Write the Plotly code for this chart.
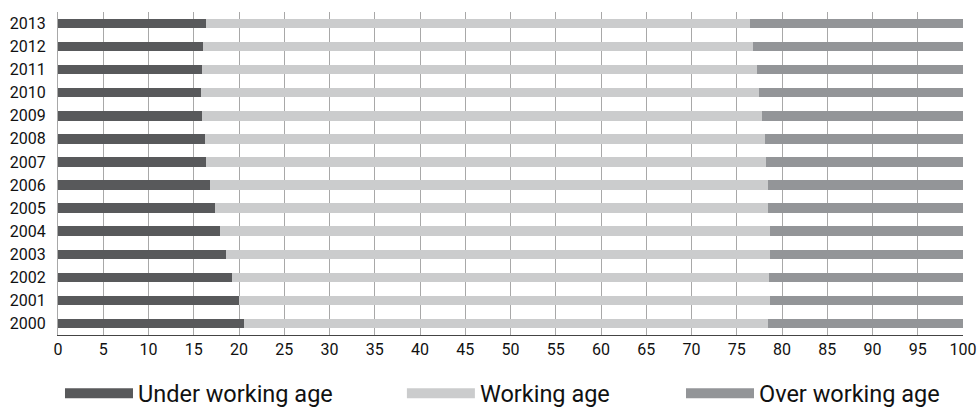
import plotly.graph_objects as go

years = ["2000", "2001", "2002", "2003", "2004", "2005", "2006",
         "2007", "2008", "2009", "2010", "2011", "2012", "2013"]
under = [20.6, 20.0, 19.2, 18.6, 17.9, 17.3, 16.8, 16.4, 16.2, 15.9, 15.8, 15.9, 16.05, 16.4]
working = [57.85, 58.7, 59.35, 60.1, 60.8, 61.15, 61.65, 61.8, 61.9, 61.9, 61.65, 61.3, 60.75, 60.05]
over = [21.55, 21.3, 21.45, 21.3, 21.3, 21.55, 21.55, 21.8, 21.9, 22.2, 22.55, 22.8, 23.2, 23.55]
x_ticks = list(range(0, 101, 5))

names = ["Under working age", "Working age", "Over working age"]
colors = ["#58595b", "#cbcccd", "#939598"]
series = [under, working, over]
legend_ids = ["legend", "legend2", "legend3"]
legend_x = [0.0022, 0.3800, 0.6884]

fig = go.Figure()
for name, col, vals in zip(names, colors, series):
    fig.add_trace(go.Bar(y=years, x=vals, orientation="h", name=name,
                         marker=dict(color=col, line=dict(width=0)),
                         showlegend=False))
for name, col, lid in zip(names, colors, legend_ids):
    fig.add_trace(go.Scatter(x=[None], y=[None], mode="lines", name=name, legend=lid,
                             line=dict(color=col, width=10.5), showlegend=True))

font = "Roboto, Arial, sans-serif"
layout_legends = {}
for lid, lx in zip(legend_ids, legend_x):
    layout_legends[lid] = dict(orientation="h", x=lx, xanchor="left", y=-0.181, yanchor="middle",
                               font=dict(family=font, size=23.5, color="#111111"),
                               itemwidth=68, bgcolor="rgba(0,0,0,0)")

fig.update_layout(
    barmode="stack",
    width=979, height=407,
    margin=dict(l=58, r=16, t=12, b=72, autoexpand=False),
    plot_bgcolor="white", paper_bgcolor="white",
    bargap=0.59,
    xaxis=dict(range=[0, 100], tickvals=x_ticks, ticktext=[str(v) for v in x_ticks],
               showgrid=True, gridcolor="#a8a8a8", gridwidth=1,
               showline=True, linecolor="#444444", linewidth=1,
               zeroline=False, ticks="", fixedrange=True, automargin=False,
               tickfont=dict(family=font, size=16, color="#111111")),
    yaxis=dict(categoryorder="array", categoryarray=years,
               showgrid=False, showline=True, linecolor="#a8a8a8", zeroline=False, ticks="",
               ticklabelstandoff=8, automargin=False, fixedrange=True,
               tickfont=dict(family=font, size=16, color="#111111")),
    **layout_legends,
)

fig.write_html("out.html", config={"displayModeBar": False, "staticPlot": True},
               post_script="document.body.style.margin='0';document.body.style.overflow='hidden';")
